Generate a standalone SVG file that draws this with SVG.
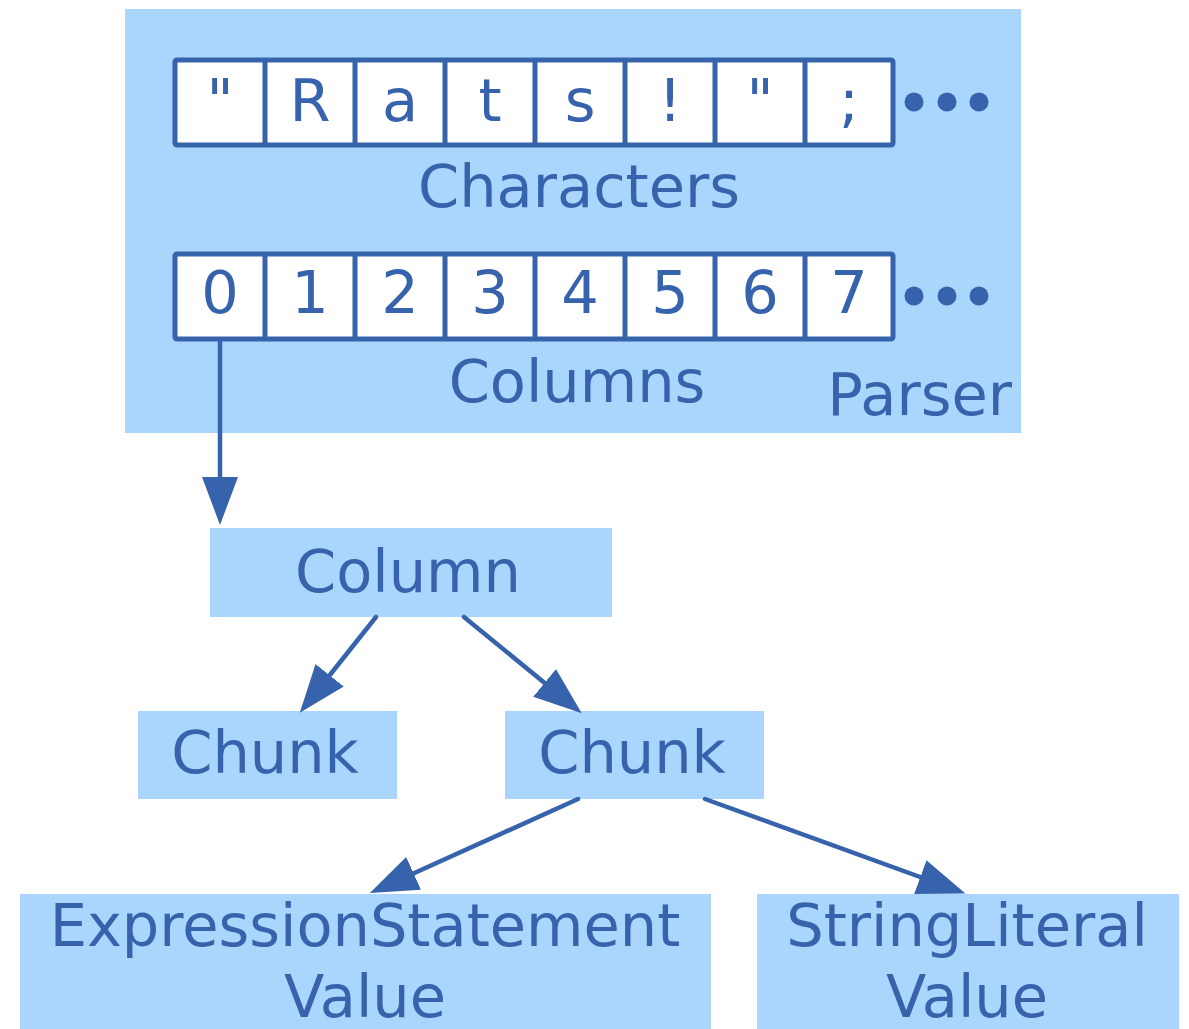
<svg xmlns="http://www.w3.org/2000/svg" width="1189" height="1029" viewBox="0 0 1189 1029">
<style>
.bg{fill:#aad6fd}
.t{font-family:"DejaVu Sans",Verdana,sans-serif;font-size:59px;fill:#3763ac;text-anchor:middle}
.cell{fill:#ffffff;stroke:#3763ac;stroke-width:5}
.dot{fill:#3763ac}
.edge{stroke:#3763ac;stroke-width:4.5;fill:none;stroke-linecap:round;marker-end:url(#ah)}
</style>
<defs>
<marker id="ah" markerUnits="userSpaceOnUse" markerWidth="48" markerHeight="36" refX="38" refY="18" orient="auto">
<path d="M0,0 L48,18 L0,36 z" fill="#3763ac"/>
</marker>
</defs>
<g id="parser">
<rect class="bg" x="125" y="9" width="896" height="424"/>
<text class="t" x="1012" y="415" style="text-anchor:end">Parser</text>
</g>
<g id="characters">
<rect class="cell" x="175" y="60" width="718" height="85" rx="2"/>
<path d="M265,60V145M355,60V145M445,60V145M535,60V145M625,60V145M715,60V145M805,60V145" stroke="#3763ac" stroke-width="5"/>
<text class="t" x="220" y="121">"</text>
<text class="t" x="310" y="121">R</text>
<text class="t" x="400" y="121">a</text>
<text class="t" x="490" y="121">t</text>
<text class="t" x="580" y="121">s</text>
<text class="t" x="670" y="121">!</text>
<text class="t" x="760" y="121">"</text>
<text class="t" x="849" y="121">;</text>
<circle class="dot" cx="914" cy="102" r="9.5"/>
<circle class="dot" cx="947" cy="102" r="9.5"/>
<circle class="dot" cx="979" cy="102" r="9.5"/>
<text class="t" x="579" y="207">Characters</text>
</g>
<g id="columns">
<rect class="cell" x="175" y="254" width="718" height="85" rx="2"/>
<path d="M265,254V339M355,254V339M445,254V339M535,254V339M625,254V339M715,254V339M805,254V339" stroke="#3763ac" stroke-width="5"/>
<text class="t" x="220" y="313">0</text>
<text class="t" x="310" y="313">1</text>
<text class="t" x="400" y="313">2</text>
<text class="t" x="490" y="313">3</text>
<text class="t" x="580" y="313">4</text>
<text class="t" x="670" y="313">5</text>
<text class="t" x="760" y="313">6</text>
<text class="t" x="849" y="313">7</text>
<circle class="dot" cx="914" cy="296" r="9.5"/>
<circle class="dot" cx="947" cy="296" r="9.5"/>
<circle class="dot" cx="979" cy="296" r="9.5"/>
<text class="t" x="577" y="402">Columns</text>
</g>
<g id="column">
<rect class="bg" x="210" y="528" width="402" height="89"/>
<text class="t" x="408" y="592">Column</text>
</g>
<g id="chunk1">
<rect class="bg" x="138" y="711" width="259" height="88"/>
<text class="t" x="265" y="773">Chunk</text>
</g>
<g id="chunk2">
<rect class="bg" x="505" y="711" width="259" height="88"/>
<text class="t" x="632" y="773">Chunk</text>
</g>
<g id="exprstmt">
<rect class="bg" x="20" y="894" width="691" height="135"/>
<text class="t" x="365" y="946">ExpressionStatement</text>
<text class="t" x="365" y="1017">Value</text>
</g>
<g id="strlit">
<rect class="bg" x="757" y="894" width="422" height="135"/>
<text class="t" x="967" y="946">StringLiteral</text>
<text class="t" x="967" y="1017">Value</text>
</g>
<g id="connectors">
<line class="edge" x1="220" y1="341" x2="220" y2="515"/>
<line class="edge" x1="376" y1="617" x2="306" y2="705"/>
<line class="edge" x1="464" y1="617" x2="574" y2="707"/>
<line class="edge" x1="578" y1="799" x2="379" y2="889"/>
<line class="edge" x1="705" y1="799" x2="956" y2="890"/>
</g>
</svg>
